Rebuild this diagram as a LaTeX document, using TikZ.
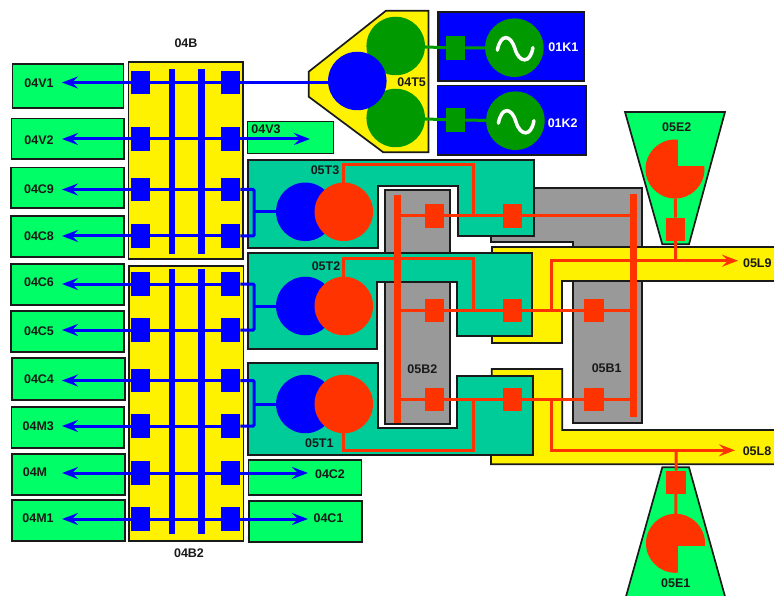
\documentclass[tikz,border=0pt]{standalone}
\usepackage{fontspec}
\setmainfont{Liberation Sans}
\usetikzlibrary{arrows.meta}
\definecolor{limec}{HTML}{00FF66}
\definecolor{tealc}{HTML}{00CC99}
\definecolor{redc}{HTML}{FF3300}
\definecolor{greenc}{HTML}{009900}
\definecolor{grayc}{HTML}{999999}
\definecolor{edgec}{HTML}{1A1A1A}
\begin{document}
\begin{tikzpicture}[x=1pt, y=-1pt, >={Stealth[length=16pt,width=12pt,inset=6pt]},
  edge/.style={draw=edgec, line width=1.7pt, miter limit=3},
  lbox/.style={edge, fill=limec, inner sep=0pt, outer sep=0pt},
  tag/.style={inner sep=0pt, text=black!90, font=\bfseries\fontsize{12.5}{14}\selectfont},
  sqr/.style={inner sep=0pt, outer sep=0pt, minimum width=19.5pt, minimum height=23.5pt},
  rnd/.style={circle, inner sep=0pt, outer sep=0pt, minimum size=58.5pt},
  bline/.style={draw=blue, line width=3pt},
  rline/.style={draw=redc, line width=3pt},
  gline/.style={draw=greenc, line width=3pt},
  bbar/.style={draw=blue, line width=6.5pt},
  rbar/.style={draw=redc, line width=6.5pt}]
  \clip (0,0) rectangle (774,596);

  \foreach \nm/\bx/\by/\bw/\bh in {04V1/68/86/111/44, 04V2/67.7/138.7/112.5/40.5,
      04C9/67.5/187.7/113/40.5, 04C8/67.5/236.5/113/41, 04C6/67.5/284.5/113/41,
      04C5/67.5/331.5/113/41, 04C4/68.5/379/113/42, 04M3/67.7/427.5/112.5/41,
      04M/68.5/474.5/113/41, 04M1/68.5/520.5/113/41, 04V3/290.5/137.5/86/32,
      04C2/305/477.5/113/35, 04C1/305.5/521.5/113/41}
    \node[lbox, minimum width=\bw, minimum height=\bh] (\nm box) at (\bx,\by) {};

  \node[edge, fill=yellow, minimum width=114.5pt, minimum height=197pt, inner sep=0pt] (busa) at (185.7,160.5) {};
  \node[edge, fill=yellow, minimum width=114.5pt, minimum height=275pt, inner sep=0pt] (busb) at (186.2,403.5) {};

  \foreach \nm/\y in {04V1/82.5, 04V2/139, 04C9/189.5, 04C8/236, 04C6/284, 04C5/330, 04C4/380.5, 04M3/426, 04M/473, 04M1/519} {
    \node[sqr, fill=blue] (\nm sqL) at (140.5,\y) {};
    \node[sqr, fill=blue] (\nm sqR) at (230.5,\y) {};
    \coordinate (\nm end) at (62,\y);
    \draw[bline] (\nm sqL) -- (\nm sqR);
    \draw[bline, ->] (\nm sqL) -- (\nm end);
  }
  \foreach \nm/\ya/\yb in {a/69/254, b/269/534} {
    \coordinate (bar\nm t) at (172,\ya);
    \coordinate (bar\nm b) at (172,\yb);
    \coordinate (cbar\nm t) at (201.5,\ya);
    \coordinate (cbar\nm b) at (201.5,\yb);
    \draw[bbar] (bar\nm t) -- (bar\nm b);
    \draw[bbar] (cbar\nm t) -- (cbar\nm b);
  }
  \coordinate (v3tip) at (310,139);
  \coordinate (c2tip) at (308,473);
  \coordinate (c1tip) at (308,519);
  \draw[bline, ->] (04V2sqR) -- (v3tip);
  \draw[bline, ->] (04MsqR) -- (c2tip);
  \draw[bline, ->] (04M1sqR) -- (c1tip);

  \draw[edge, fill=grayc] (491,200) -- (491,188.3) -- (641.7,188.3) -- (641.7,423.3) -- (573.3,423.3)
    -- (573.3,241.7) -- (491,241.7) -- cycle;
  \draw[edge, fill=yellow] (491.7,247) -- (780,247) -- (780,281) -- (561.7,281) -- (561.7,343.3) -- (491.7,343.3) -- cycle;
  \draw[edge, fill=yellow] (491.7,369) -- (562.3,369) -- (562.3,430) -- (780,430) -- (780,464.3) -- (491,464.3) -- cycle;
  \node[edge, fill=grayc, inner sep=0pt, minimum width=65pt, minimum height=234pt] (b2box) at (417.2,307) {};

  \draw[edge, fill=tealc] (247.7,160) -- (534,160) -- (534,236) -- (458,236) -- (458,186) -- (377.7,186) -- (377.7,248) -- (247.7,248) -- cycle;
  \draw[edge, fill=tealc] (247.7,253) -- (532,253) -- (532,336) -- (456.7,336) -- (456.7,282) -- (377,282) -- (377,349) -- (247.7,349) -- cycle;
  \draw[edge, fill=tealc] (247.7,363) -- (377.7,363) -- (377.7,427.7) -- (456.7,427.7) -- (456.7,376) -- (533,376) -- (533,455.3) -- (247.7,455.3) -- cycle;

  \draw[edge, fill=yellow] (386,10.7) -- (428.5,10.7) -- (428.5,152.3) -- (383.3,152.3) -- (308.7,96.7) -- (308.7,71.7) -- cycle;
  \node[edge, fill=blue, inner sep=0pt, minimum width=146.5pt, minimum height=69pt] (k1box) at (511,46.8) {};
  \node[edge, fill=blue, inner sep=0pt, minimum width=148.5pt, minimum height=69.5pt] (k2box) at (511.8,120.3) {};
  \node[rnd, fill=greenc] (t5up) at (395.7,46) {};
  \node[rnd, fill=greenc] (t5dn) at (395.7,118) {};
  \node[rnd, fill=blue] (t5bl) at (357.3,81) {};
  \node[sqr, fill=greenc] (k1sq) at (455.7,48) {};
  \node[sqr, fill=greenc] (k2sq) at (455.7,120) {};
  \node[rnd, fill=greenc] (k1gen) at (514.4,47.7) {};
  \node[rnd, fill=greenc] (k2gen) at (515.4,120.7) {};
  \draw[gline] (t5up) -- (k1sq) -- (k1gen);
  \draw[gline] (t5dn) -- (k2sq) -- (k2gen);
  \draw[bline] (04V1sqR) -- (04V1sqR -| t5bl);
  \foreach \x/\y in {514.4/47.7, 515.4/120.7}
    \draw[white, line width=3.5pt, line cap=round, shift={(\x,\y)}] (-17,2.5) .. controls (-14,-14) and (-4,-14) .. (0.5,1)
      .. controls (5,16) and (16,16) .. (18.5,0);

  \foreach \nm/\yc/\ya/\yb in {t3/211.8/04C9/04C8, t2/306/04C6/04C5, t1/404/04C4/04M3} {
    \node[rnd, fill=blue] (\nm bl) at (305.3,\yc) {};
    \node[rnd, fill=redc] (\nm rd) at (343.8,\yc) {};
    \coordinate (\nm brk) at (254,\yc);
    \draw[bline, rounded corners=1pt] (\ya sqR) -| (\nm brk) |- (\yb sqR);
    \draw[bline] (\nm brk) -- (\nm bl);
  }

  \coordinate (b2t) at (397.7,195);
  \coordinate (b2b) at (397.7,422.7);
  \coordinate (b1t) at (633.7,194);
  \coordinate (b1b) at (633.7,417);
  \draw[rbar] (b2t) -- (b2b);
  \draw[rbar] (b1t) -- (b1b);

  \foreach \nm/\y in {t3/216, t2/310.5, t1/399.5} {
    \coordinate (\nm w) at (397.7,\y);
    \coordinate (\nm e) at (633.7,\y);
    \coordinate (\nm j) at (473,\y);
    \node[sqr, fill=redc] (\nm qa) at (434.3,\y) {};
    \node[sqr, fill=redc] (\nm qb) at (512.3,\y) {};
    \draw[rline] (\nm w) -- (\nm e);
  }
  \node[sqr, fill=redc] (t2qc) at (594,310.5) {};
  \node[sqr, fill=redc] (t1qc) at (594,399.5) {};
  \draw[rline] (t3rd.north) -- +(0,-18) -| (t3j);
  \draw[rline] (t2rd.north) -- +(0,-18) -| (t2j);
  \draw[rline] (t1rd.south) -- +(0,17) -| (t1j);

  \coordinate (l9j) at (551,310.5);
  \coordinate (l8j) at (551,399.5);
  \coordinate (l9end) at (738,260.7);
  \coordinate (l8end) at (735,450.3);
  \draw[rline, ->] (l9j) |- (l9end);
  \draw[rline, ->] (l8j) |- (l8end);

  \draw[edge, fill=limec] (625,112) -- (725,112) -- (689,244.3) -- (662.3,244.3) -- cycle;
  \draw[edge, fill=limec] (662.3,467.3) -- (689,467.3) -- (726,600) -- (625,600) -- cycle;
  \node[rnd, minimum size=59pt, fill=redc] (e2pie) at (675,169) {};
  \node[rnd, minimum size=59pt, fill=redc] (e1pie) at (675.5,543.3) {};
  \fill[limec] (678.3,165.7) rectangle (707,136);
  \fill[limec] (678.3,545.7) rectangle (708,576);
  \node[sqr, fill=redc] (e2q) at (675.7,229.3) {};
  \node[sqr, fill=redc] (e1q) at (676,482.3) {};
  \coordinate (e2j) at (675.7,260.7);
  \coordinate (e1j) at (676,450.3);
  \draw[rline] (e2pie) -- (e2q) -- (e2j);
  \draw[rline] (e1j) -- (e1q) -- (e1pie);

  \foreach \nm/\x/\y in {04V1/39/83, 04V2/39/140, 04C9/39/188.7, 04C8/39/235.7, 04C6/39/282, 04C5/39/330.7,
      04C4/39/379, 04M3/38.3/426, 04M/35/472, 04M1/38/518, 04V3/266/129, 04C2/330/474, 04C1/328.5/518,
      04B/186/43, 04B2/189/553, 04T5/411.7/81.7, 05T3/325/170.7, 05T2/326/265.7, 05T1/319.3/442.7,
      05B2/422.3/369.3, 05B1/606.7/368.3, 05E2/676.7/127.3, 05E1/675.7/583.3, 05L9/757.3/263.3, 05L8/757/450.7}
    \node[tag] (\nm tag) at (\x,\y) {\nm};
  \node[tag, text=white] (k1tag) at (563.3,46.7) {01K1};
  \node[tag, text=white] (k2tag) at (562.7,122.7) {01K2};
\end{tikzpicture}
\end{document}
